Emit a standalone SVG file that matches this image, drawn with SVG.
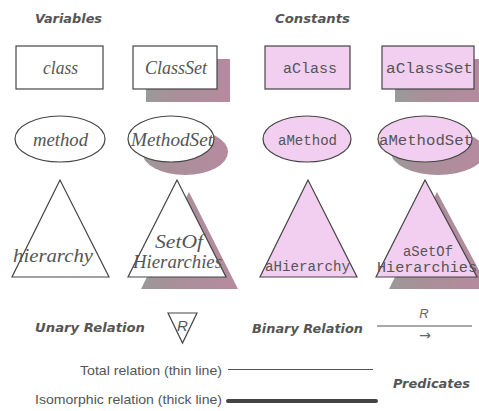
<svg xmlns="http://www.w3.org/2000/svg" width="479" height="411" viewBox="0 0 479 411">
<defs>
<linearGradient id="sh" x1="0" y1="0" x2="1" y2="0">
<stop offset="0" stop-color="#9a9a9a"/>
<stop offset="0.3" stop-color="#a89098"/>
<stop offset="1" stop-color="#b68a9f"/>
</linearGradient>
</defs>
<style>
.h{font-family:"DejaVu Sans","Liberation Sans",sans-serif;font-weight:bold;font-style:italic;font-size:12px;fill:#555}
.v{font-family:"Liberation Serif","Times New Roman",serif;font-style:italic;font-size:19px;fill:#555}
.c{font-family:"Liberation Mono","Courier New",monospace;font-size:14.5px;fill:#555}
.s{font-family:"Liberation Sans",Arial,sans-serif;font-size:13px;fill:#555}
.ov{fill:#fff;stroke:#444;stroke-width:1.2}
.oc{fill:#f2cff0;stroke:#444;stroke-width:1.2}
.sh{fill:url(#sh)}
</style>
<rect width="479" height="411" fill="#fff"/>
<text class="h" x="35" y="23" textLength="67" lengthAdjust="spacingAndGlyphs">Variables</text>
<text class="h" x="275" y="23" textLength="75" lengthAdjust="spacingAndGlyphs">Constants</text>

<g id="class"><rect class="ov" x="16" y="46" width="87" height="43"/><text class="v" x="43" y="74" textLength="35" lengthAdjust="spacingAndGlyphs">class</text></g>
<g id="ClassSet"><rect class="sh" x="146" y="59" width="84" height="43"/><rect class="ov" x="133" y="46" width="84" height="43"/><text class="v" x="145" y="74" textLength="62" lengthAdjust="spacingAndGlyphs">ClassSet</text></g>
<g id="aClass"><rect class="oc" x="265" y="46" width="85" height="43"/><text class="c" x="283" y="73" textLength="54" lengthAdjust="spacingAndGlyphs">aClass</text></g>
<g id="aClassSet"><rect class="sh" x="395" y="59" width="90" height="43"/><rect class="oc" x="382" y="46" width="92" height="43"/><text class="c" x="386" y="73" textLength="87" lengthAdjust="spacingAndGlyphs">aClassSet</text></g>

<g id="method"><ellipse class="ov" cx="60" cy="139" rx="45" ry="23"/><text class="v" x="33" y="146" textLength="55" lengthAdjust="spacingAndGlyphs">method</text></g>
<g id="MethodSet"><ellipse class="sh" cx="185" cy="152" rx="43" ry="23"/><ellipse class="ov" cx="171" cy="139" rx="43" ry="23"/><text class="v" x="131" y="146" textLength="82" lengthAdjust="spacingAndGlyphs">MethodSet</text></g>
<g id="aMethod"><ellipse class="oc" cx="307" cy="139" rx="44" ry="23"/><text class="c" x="278" y="145" textLength="59" lengthAdjust="spacingAndGlyphs">aMethod</text></g>
<g id="aMethodSet"><ellipse class="sh" cx="438" cy="152" rx="47" ry="23"/><ellipse class="oc" cx="425" cy="139" rx="47" ry="23"/><text class="c" x="379" y="145" textLength="94" lengthAdjust="spacingAndGlyphs">aMethodSet</text></g>

<g id="hierarchy"><polygon class="ov" points="60,180 12,277 109,277"/><text class="v" x="13" y="262" textLength="80" lengthAdjust="spacingAndGlyphs">hierarchy</text></g>
<g id="SetOfHierarchies"><polygon class="sh" points="189,192 141,289 238,289"/><polygon class="ov" points="177,180 128,277 226,277"/><text class="v" x="155" y="248" textLength="48" lengthAdjust="spacingAndGlyphs">SetOf</text><text class="v" x="133" y="268" textLength="89" lengthAdjust="spacingAndGlyphs">Hierarchies</text></g>
<g id="aHierarchy"><polygon class="oc" points="308,180 260,277 357,277"/><text class="c" x="265" y="271" textLength="85" lengthAdjust="spacingAndGlyphs">aHierarchy</text></g>
<g id="aSetOfHierarchies"><polygon class="sh" points="437,192 389,289 489,289"/><polygon class="oc" points="425,180 376,277 477,277"/><text class="c" x="403" y="256" textLength="50" lengthAdjust="spacingAndGlyphs">aSetOf</text><text class="c" x="377" y="272" textLength="100" lengthAdjust="spacingAndGlyphs">Hierarchies</text></g>

<text class="h" x="35" y="332" textLength="110" lengthAdjust="spacingAndGlyphs">Unary Relation</text>
<g id="unary"><polygon points="168,313 197,313 182.5,343" fill="#fff" stroke="#444" stroke-width="1.2"/><text x="182.5" y="331" text-anchor="middle" font-family="Liberation Sans,sans-serif" font-style="italic" font-size="15" fill="#555">R</text></g>
<text class="h" x="252" y="333" textLength="111" lengthAdjust="spacingAndGlyphs">Binary Relation</text>
<g id="connectors">
<line x1="377" y1="326" x2="472" y2="326" stroke="#555" stroke-width="1"/>
<line x1="228" y1="369.5" x2="373" y2="369.5" stroke="#555" stroke-width="1"/>
<line x1="228" y1="401" x2="376" y2="401" stroke="#444" stroke-width="4" stroke-linecap="round"/>
</g>
<text x="424" y="318" text-anchor="middle" font-family="Liberation Sans,sans-serif" font-style="italic" font-size="13" fill="#666">R</text>
<text x="425" y="340" text-anchor="middle" font-family="DejaVu Sans,sans-serif" font-size="14" fill="#666">→</text>
<text class="s" x="80" y="375" textLength="142" lengthAdjust="spacingAndGlyphs">Total relation (thin line)</text>
<text class="s" x="35" y="404" textLength="187" lengthAdjust="spacingAndGlyphs">Isomorphic relation (thick line)</text>
<text class="h" x="393" y="388" textLength="77" lengthAdjust="spacingAndGlyphs">Predicates</text>
</svg>
